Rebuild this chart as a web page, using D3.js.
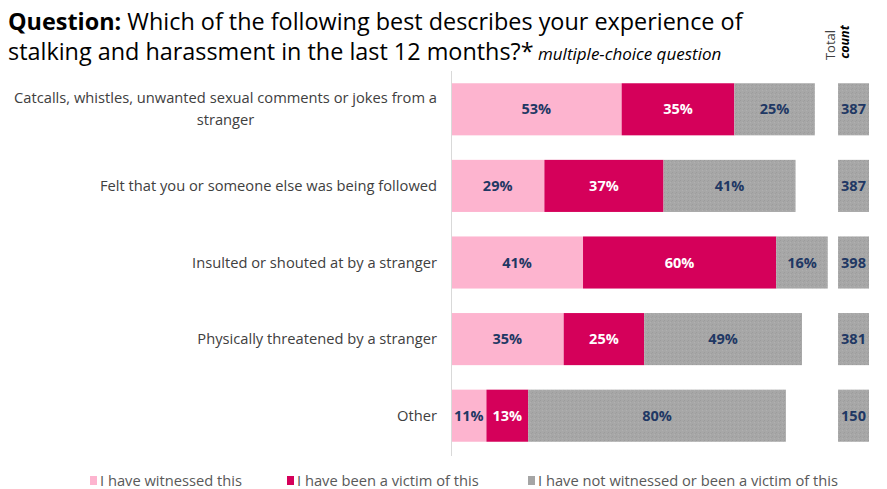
<!DOCTYPE html>
<html>
<head>
<meta charset="utf-8">
<script src="https://cdn.jsdelivr.net/npm/d3@7"></script>
<style>
  html, body { margin: 0; padding: 0; background: #fff; overflow: hidden; }
  svg { display: block; font-family: "Open Sans", Lato, sans-serif; }
</style>
</head>
<body>
<svg id="chart" width="887" height="489"></svg>
<script>
// Survey answers, percent of respondents per category
const categories = [
  ["Catcalls, whistles, unwanted sexual comments or jokes from a", "stranger"],
  ["Felt that you or someone else was being followed"],
  ["Insulted or shouted at by a stranger"],
  ["Physically threatened by a stranger"],
  ["Other"]
];
const seriesNames = [
  "I have witnessed this",
  "I have been a victim of this",
  "I have not witnessed or been a victim of this"
];
const witnessed = [53, 29, 41, 35, 11];
const victim = [35, 37, 60, 25, 13];
const neither = [25, 41, 16, 49, 80];
const totalCount = [387, 387, 398, 381, 150];

const colors = ["#fdb4cf", "#d5005a", "#a5a5a5"];
const labelColors = ["#1f3864", "#ffffff", "#1f3864"];

const svg = d3.select("#chart");

// textured fill for the grey segments
const defs = svg.append("defs");
const pat = defs.append("pattern").attr("id", "tex")
  .attr("width", 4).attr("height", 4).attr("patternUnits", "userSpaceOnUse");
pat.append("rect").attr("width", 4).attr("height", 4).attr("fill", "#a7a7a7");
pat.append("rect").attr("x", 0).attr("y", 0).attr("width", 1).attr("height", 1).attr("fill", "#9c9c9c");
pat.append("rect").attr("x", 2).attr("y", 2).attr("width", 1).attr("height", 1).attr("fill", "#b0b0b0");
pat.append("rect").attr("x", 3).attr("y", 1).attr("width", 1).attr("height", 1).attr("fill", "#9f9f9f");

// Title
const title = svg.append("text").attr("x", 8).attr("y", 30)
  .attr("font-size", 23.4).attr("fill", "#000");
title.append("tspan").attr("font-weight", "bold").text("Question:");
title.append("tspan").text(" Which of the following best describes your experience of");
const title2 = svg.append("text").attr("x", 8).attr("y", 60)
  .attr("font-size", 23.4).attr("fill", "#000");
title2.append("tspan").text("stalking and harassment in the last 12 months?*");
title2.append("tspan").attr("font-size", 17).attr("font-style", "italic").text(" multiple-choice question");

const x0 = 451;
const x = d3.scaleLinear().domain([0, 100]).range([x0, x0 + 322]);
const y = d3.scaleBand().domain(d3.range(categories.length))
  .range([71, 454]).paddingInner(0.32).paddingOuter(0.16);

const rows = categories.map((c, i) => {
  const vals = [witnessed[i], victim[i], neither[i]];
  let acc = 0;
  return vals.map((v, k) => {
    const s = { row: i, k, v, start: acc, end: acc + v };
    acc += v;
    return s;
  });
});

const seg = svg.append("g").selectAll("g").data(rows).join("g");
seg.selectAll("rect").data(d => d).join("rect")
  .attr("x", d => x(d.start))
  .attr("y", d => y(d.row))
  .attr("width", d => x(d.end) - x(d.start))
  .attr("height", y.bandwidth())
  .attr("fill", d => d.k === 2 ? "url(#tex)" : colors[d.k]);
seg.selectAll("text").data(d => d).join("text")
  .attr("x", d => (x(d.start) + x(d.end)) / 2)
  .attr("y", d => y(d.row) + y.bandwidth() / 2)
  .attr("dy", "0.35em")
  .attr("text-anchor", "middle")
  .attr("font-size", 14.5).attr("font-weight", "bold")
  .attr("fill", d => labelColors[d.k])
  .text(d => d.v + "%");

// vertical axis line
svg.append("line").attr("x1", x0 + 0.5).attr("x2", x0 + 0.5)
  .attr("y1", 71).attr("y2", 456)
  .attr("stroke", "#d9d9d9").attr("stroke-width", 1);

// category labels: centred lines inside a right-aligned block
const labelRight = 437;
categories.forEach((lines, i) => {
  const g = svg.append("g");
  const cy = y(i) + y.bandwidth() / 2;
  const lh = 22;
  const texts = lines.map((t, j) => g.append("text")
    .attr("y", cy + (j - (lines.length - 1) / 2) * lh)
    .attr("dy", "0.35em")
    .attr("font-size", 14.7).attr("fill", "#404040")
    .attr("text-anchor", "middle")
    .text(t));
  const w = d3.max(texts, t => t.node().getComputedTextLength());
  texts.forEach(t => t.attr("x", labelRight - w / 2));
});

// Total count column
const cx = 838, cw = 31;
svg.append("g").selectAll("rect").data(totalCount).join("rect")
  .attr("x", cx).attr("y", (d, i) => y(i))
  .attr("width", cw).attr("height", y.bandwidth())
  .attr("fill", "url(#tex)");
svg.append("g").selectAll("text").data(totalCount).join("text")
  .attr("x", cx + cw / 2).attr("y", (d, i) => y(i) + y.bandwidth() / 2)
  .attr("dy", "0.35em").attr("text-anchor", "middle")
  .attr("font-size", 14.5).attr("font-weight", "bold").attr("fill", "#1f3864")
  .text(d => d);
svg.append("text").attr("transform", "translate(835,45) rotate(-90)")
  .attr("text-anchor", "middle").attr("font-size", 13).attr("fill", "#404040")
  .text("Total");
svg.append("text").attr("transform", "translate(849,42) rotate(-90)")
  .attr("text-anchor", "middle").attr("font-size", 12.5)
  .attr("font-weight", "bold").attr("font-style", "italic").attr("fill", "#000")
  .text("count");

// Legend
const legendX = [90, 287, 528];
const lg = svg.append("g").selectAll("g").data(seriesNames).join("g")
  .attr("transform", (d, i) => `translate(${legendX[i]},486)`);
lg.append("rect").attr("x", 0).attr("y", -10).attr("width", 7).attr("height", 9)
  .attr("fill", (d, i) => i === 2 ? "#a5a5a5" : colors[i]);
lg.append("text").attr("x", 10).attr("y", 0)
  .attr("font-size", 14.7).attr("fill", "#595959")
  .text(d => d);
</script>
</body>
</html>
